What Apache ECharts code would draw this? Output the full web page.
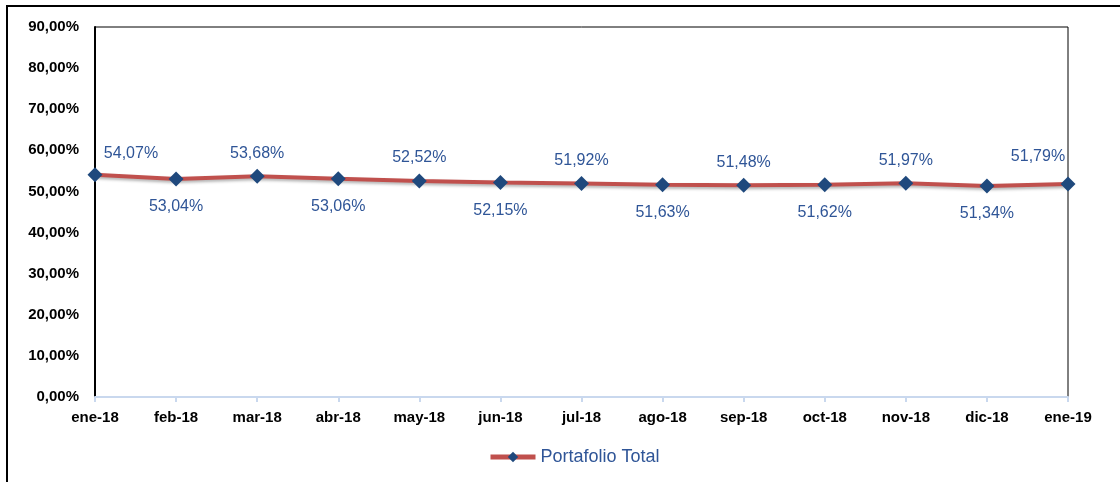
<!DOCTYPE html>
<html>
<head>
<meta charset="utf-8">
<script src="https://cdn.jsdelivr.net/npm/echarts@6/dist/echarts.min.js"></script>
<style>
    html, body {margin:0;padding:0;background:#fff;}
    #frame {position:absolute;left:6px;top:5px;width:1114px;height:477px;border-top:2px solid #000;border-left:2px solid #000;}
    #chart {position:absolute;left:0;top:0;width:1120px;height:482px;}
</style>
</head>
<body>
<div id="frame"></div>
<div id="chart"></div>
<script>
    var months = ['ene-18', 'feb-18', 'mar-18', 'abr-18', 'may-18', 'jun-18', 'jul-18',
        'ago-18', 'sep-18', 'oct-18', 'nov-18', 'dic-18', 'ene-19'];
    var portafolio = [54.07, 53.04, 53.68, 53.06, 52.52, 52.15, 51.92, 51.63, 51.48, 51.62, 51.97, 51.34, 51.79];
    var seriesName = 'Portafolio Total';

    function pct(v) {
        return v.toFixed(2).replace('.', ',') + '%';
    }

    // labels alternate above / below the line, edge ones pushed inward
    var points = portafolio.map(function (v, i) {
        var up = i % 2 === 0;
        var off = [0, up ? -23 : 28];
        if (i === 0) off = [36, -21];
        if (i === portafolio.length - 1) off = [-30, -27];
        return {value: v, label: {offset: off}};
    });

    var chart = echarts.init(document.getElementById('chart'));
    chart.setOption({
        animation: false,
        grid: {left: 95, right: 52, top: 27, bottom: 85, show: true, borderColor: '#000', borderWidth: 1},
        legend: {
            data: [seriesName],
            left: 483, top: 443,
            itemWidth: 45, itemHeight: 13, itemGap: 4,
            lineStyle: {width: 5},
            textStyle: {color: '#2f5597', fontSize: 18, fontFamily: 'Liberation Sans'}
        },
        xAxis: {
            type: 'category',
            data: months,
            boundaryGap: false,
            axisLine: {lineStyle: {color: '#c9d8ee', width: 2}},
            axisTick: {show: true, length: 5, lineStyle: {color: '#c9d8ee', width: 2}},
            axisLabel: {color: '#000', fontWeight: 'bold', fontSize: 15, fontFamily: 'Liberation Sans', margin: 13}
        },
        yAxis: {
            type: 'value',
            min: 0, max: 90, interval: 10,
            splitLine: {show: false},
            axisLine: {show: true, lineStyle: {color: '#000', width: 2}},
            axisTick: {show: false},
            axisLabel: {
                color: '#000', fontWeight: 'bold', fontSize: 15, fontFamily: 'Liberation Sans', margin: 16,
                formatter: function (v) { return pct(v); }
            }
        },
        series: [{
            name: seriesName,
            type: 'line',
            data: points,
            symbol: 'diamond',
            symbolSize: 15,
            lineStyle: {color: '#c0504d', width: 4, shadowColor: 'rgba(0,0,0,0.3)', shadowBlur: 3, shadowOffsetY: 2},
            itemStyle: {color: '#1f497d'},
            label: {
                show: true,
                position: 'inside',
                color: '#2f5597',
                fontSize: 16,
                fontFamily: 'Liberation Sans',
                formatter: function (p) { return pct(p.value); }
            }
        }]
    });
    window.onresize = function () {
        chart.resize();
    };
</script>
</body>
</html>
